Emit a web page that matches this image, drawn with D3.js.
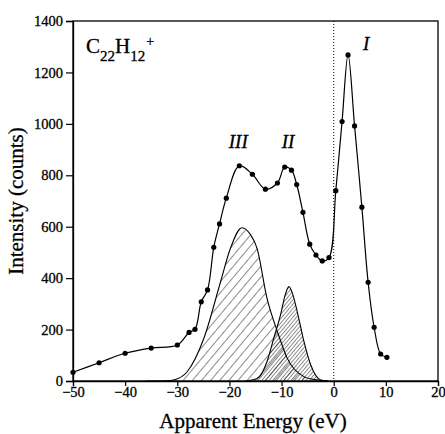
<!DOCTYPE html>
<html>
<head>
<meta charset="utf-8">
<script src="https://cdn.jsdelivr.net/npm/d3@7"></script>
<style>
body { margin: 0; background: #fff; }
</style>
</head>
<body>
<div id="chart"></div>
<script>

// measured spectrum (points with markers)
var energy = [-50, -45, -40, -35, -30, -27.75, -26.6, -25.4, -24.2, -23, -21.9, -20.6, -18.1, -15.6, -13.1, -10.8, -9.4, -8.1, -7.1, -5.9, -4.6, -3.4, -2.2, -0.9, 0.4, 1.6, 2.75, 4.0, 5.4, 6.6, 7.75, 9.0, 10.2];
var counts = [34, 71, 108, 128, 140, 189, 201, 308, 354, 520, 611, 711, 837, 804, 746, 770, 832, 820, 764, 656, 532, 490, 467, 480, 740, 1009, 1268, 992, 676, 384, 209, 105, 92];

// fitted component III (sparse hatch)
var compIIIx = [-36, -32, -30.7, -28.1, -24.9, -21.7, -19.8, -17.6, -16, -14.7, -12.8, -10.8, -8.9, -5.7, -3.2, -1];
var compIIIy = [0, 1, 4, 36, 166, 386, 516, 596, 570, 516, 322, 192, 88, 17, 4, 0];

// fitted component II (dense hatch)
var compIIx = [-17, -14.7, -12.8, -11.5, -10.2, -9.3, -8.6, -7.9, -7, -5.7, -4.4, -2.5, -1];
var compIIy = [0, 10, 75, 166, 257, 335, 367, 340, 270, 153, 62, 4, 0];

var xTicks = [-50, -40, -30, -20, -10, 0, 10, 20];
var yTicks = [0, 200, 400, 600, 800, 1000, 1200, 1400];

// peak labels
var peakNames = ["III", "II", "I"];
var peakX = [-18.3, -8.75, 6.2];
var peakY = [906, 906, 1287];

var FONT = "'Liberation Serif', 'Times New Roman', serif";

var W = 445, H = 434;
var margin = {top: 21, right: 7, bottom: 53, left: 73};
var width = W - margin.left - margin.right,
    height = H - margin.top - margin.bottom;

var svg = d3.select("#chart").append("svg")
    .attr("width", W)
    .attr("height", H);

var defs = svg.append("defs");

function hatch(id, gap, sw) {
  var p = defs.append("pattern")
      .attr("id", id)
      .attr("patternUnits", "userSpaceOnUse")
      .attr("width", gap)
      .attr("height", 10)
      .attr("patternTransform", "rotate(40)");
  p.append("line")
      .attr("x1", 0).attr("y1", 0)
      .attr("x2", 0).attr("y2", 10)
      .attr("stroke", "#000")
      .attr("stroke-width", sw);
}
hatch("hatchIII", 7, 0.9);
hatch("hatchII", 2.8, 0.9);

// scanned print looks a bit heavier than plain text
function inkText(sel, size) {
  sel.style("font-family", FONT)
     .style("font-size", size + "px")
     .style("fill", "#000")
     .style("stroke", "#000")
     .style("stroke-width", "0.3px");
}

var g = svg.append("g")
    .attr("transform", "translate(" + margin.left + "," + margin.top + ")");

var x = d3.scaleLinear().domain([-50, 20]).range([0, width]);
var y = d3.scaleLinear().domain([0, 1400]).range([height, 0]);

// component areas
function compArea(xs, ys) {
  return d3.area()
    .x(function(d, i) { return x(xs[i]); })
    .y0(y(0))
    .y1(function(d, i) { return y(ys[i]); })
    .curve(d3.curveMonotoneX)(xs);
}
function compLine(xs, ys) {
  return d3.line()
    .x(function(d, i) { return x(xs[i]); })
    .y(function(d, i) { return y(ys[i]); })
    .curve(d3.curveMonotoneX)(xs);
}

g.append("path").attr("d", compArea(compIIIx, compIIIy)).attr("fill", "url(#hatchIII)");
g.append("path").attr("d", compArea(compIIx, compIIy)).attr("fill", "url(#hatchII)");
g.append("path").attr("d", compLine(compIIIx, compIIIy)).attr("fill", "none").attr("stroke", "#000").attr("stroke-width", 1.1);
g.append("path").attr("d", compLine(compIIx, compIIy)).attr("fill", "none").attr("stroke", "#000").attr("stroke-width", 1.1);

// dotted zero line
g.append("line")
    .attr("x1", x(0)).attr("x2", x(0))
    .attr("y1", 0).attr("y2", height)
    .attr("stroke", "#000")
    .attr("stroke-width", 1)
    .attr("stroke-dasharray", "1,2");

// frame
g.append("rect")
    .attr("width", width).attr("height", height)
    .attr("fill", "none").attr("stroke", "#000").attr("stroke-width", 1.3);

// axes
var xAxis = g.append("g")
    .attr("transform", "translate(0," + height + ")")
    .call(d3.axisBottom(x).tickValues(xTicks).tickSize(5).tickPadding(1).tickFormat(d3.format("d")));
var yAxis = g.append("g")
    .call(d3.axisLeft(y).tickValues(yTicks).tickSize(7).tickPadding(3).tickFormat(d3.format("d")));

[xAxis, yAxis].forEach(function(a) {
  a.attr("font-family", null).attr("font-size", null);
  a.select(".domain").attr("stroke-width", 1.3);
  a.selectAll(".tick line").attr("stroke-width", 1.2);
  inkText(a.selectAll("text"), 14.5);
});

// spectrum
var line = d3.line()
    .x(function(d, i) { return x(energy[i]); })
    .y(function(d, i) { return y(counts[i]); })
    .curve(d3.curveCatmullRom.alpha(0.5));

g.append("path")
    .attr("d", line(energy))
    .attr("fill", "none")
    .attr("stroke", "#000")
    .attr("stroke-width", 1.2);

g.selectAll(".pt")
    .data(energy)
  .enter().append("circle")
    .attr("class", "pt")
    .attr("cx", function(d) { return x(d); })
    .attr("cy", function(d, i) { return y(counts[i]); })
    .attr("r", 2.6)
    .attr("fill", "#000");

// labels
inkText(svg.append("text")
    .attr("x", 253).attr("y", 428)
    .attr("text-anchor", "middle")
    .text("Apparent Energy (eV)"), 21);

inkText(svg.append("text")
    .attr("transform", "translate(23,201) rotate(-90)")
    .attr("text-anchor", "middle")
    .text("Intensity (counts)"), 21);

var formula = svg.append("text")
    .attr("x", 86).attr("y", 53);
inkText(formula, 21);
formula.append("tspan").text("C");
formula.append("tspan").attr("dy", 8).style("font-size", "15px").text("22");
formula.append("tspan").attr("dy", -8).text("H");
formula.append("tspan").attr("dy", 8).style("font-size", "15px").text("12");
formula.append("tspan").attr("dy", -15).attr("dx", 1).style("font-size", "14px").text("+");

var peaks = svg.selectAll(".peak")
    .data(peakNames)
  .enter().append("text")
    .attr("class", "peak")
    .attr("x", function(d, i) { return margin.left + x(peakX[i]); })
    .attr("y", function(d, i) { return margin.top + y(peakY[i]); })
    .attr("text-anchor", "middle")
    .style("font-style", "italic")
    .text(function(d) { return d; });
inkText(peaks, 19);

</script>
</body>
</html>
